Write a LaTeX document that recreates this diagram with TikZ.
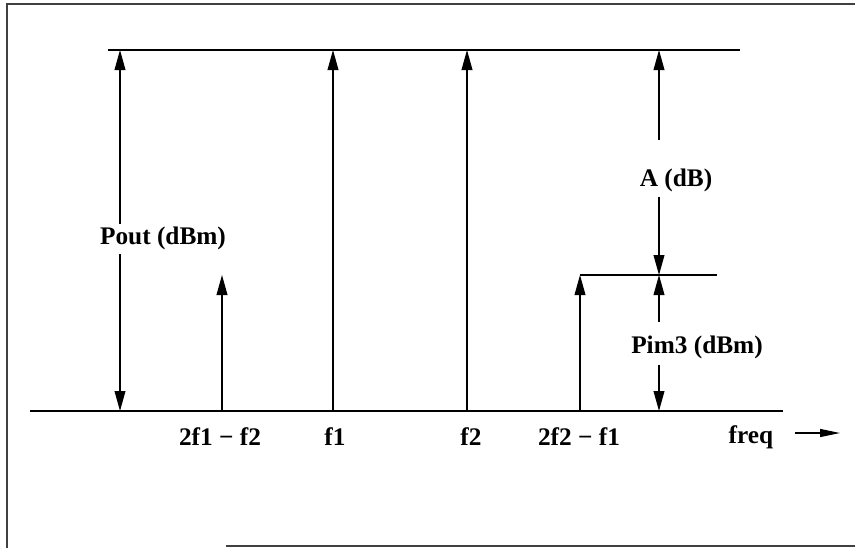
\documentclass[tikz,border=0pt]{standalone}
\usepackage{fontspec}
\setmainfont{Liberation Serif}
\usetikzlibrary{arrows.meta, positioning}

\tikzset{
  lbl/.style={font=\fontsize{18}{20}\selectfont\bfseries, inner sep=1pt},
  level/.style={line width=0.9pt},
  tone/.style={line width=0.9pt, -{Triangle[length=0.5cm, width=0.27cm]}},
}

\begin{document}
\begin{tikzpicture}[x=0.025cm, y=-0.025cm]
    \useasboundingbox (0,0) rectangle (855,548);
    % Frame
    \draw[line width=1pt, black!75] (855,4) -- (7,4) -- (7,548);
    \draw[line width=1pt, black!75] (226,546) -- (855,546);
    % Power levels and frequency axis
    \coordinate (top-l) at (108,50);
    \coordinate (top-r) at (740,50);
    \coordinate (im-l) at (580,275);
    \coordinate (im-r) at (717,275);
    \coordinate (base-l) at (30,411);
    \coordinate (base-r) at (783,411);
    \draw[level] (top-l) -- (top-r);
    \draw[level] (im-l) -- (im-r);
    \draw[level] (base-l) -- (base-r);
    % Tones
    \foreach \name/\x/\h in {imA/222/275, fA/333/50, fB/467/50, imB/580/275} {
      \coordinate (\name-foot) at (\x,411);
      \coordinate (\name-tip) at (\x,\h);
      \draw[tone] (\name-foot) -- (\name-tip);
    }
    \node[lbl] (imA-lbl) at (220,437) {2f1 − f2};
    \node[lbl] (fA-lbl) at (335,437) {f1};
    \node[lbl] (fB-lbl) at (471,437) {f2};
    \node[lbl] (imB-lbl) at (579,437) {2f2 − f1};
    % Output power
    \node[lbl] (pout-lbl) at (163,238) {Pout (dBm)};
    \coordinate (pout-top) at (120,50);
    \coordinate (pout-gap1) at (120,224);
    \coordinate (pout-gap2) at (120,254);
    \coordinate (pout-base) at (120,411);
    \draw[tone] (pout-gap1) -- (pout-top);
    \draw[tone] (pout-gap2) -- (pout-base);
    % Suppression A
    \node[lbl] (a-lbl) at (676,180) {A (dB)};
    \coordinate (a-top) at (659,50);
    \coordinate (a-gap1) at (659,140);
    \coordinate (a-gap2) at (659,197);
    \coordinate (a-mid) at (659,275);
    \draw[tone] (a-gap1) -- (a-top);
    \draw[tone] (a-gap2) -- (a-mid);
    % IM3 power
    \node[lbl] (pim-lbl) at (697,347) {Pim3 (dBm)};
    \coordinate (pim-gap1) at (659,322);
    \coordinate (pim-gap2) at (659,365);
    \coordinate (pim-base) at (659,411);
    \draw[tone] (pim-gap1) -- (a-mid);
    \draw[tone] (pim-gap2) -- (pim-base);
    % Frequency direction
    \node[lbl] (freq-lbl) at (751,437) {freq};
    \coordinate (freq-start) at (795,433);
    \coordinate (freq-end) at (840,433);
    \draw[line width=0.9pt, -{Triangle[length=0.5cm, width=0.2cm]}] (freq-start) -- (freq-end);
\end{tikzpicture}
\end{document}
